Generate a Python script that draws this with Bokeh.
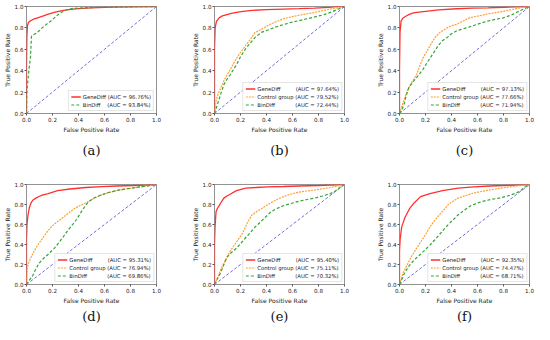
from bokeh.plotting import figure
from bokeh.layouts import column, row
from bokeh.models import FixedTicker, PrintfTickFormatter
from bokeh.embed import file_html
from bokeh.resources import INLINE

# ---------------- data ----------------
TICKS = [0.0, 0.2, 0.4, 0.6, 0.8, 1.0]
DIAG = [0.0, 1.0]
PANEL_TAGS = ["(a)", "(b)", "(c)", "(d)", "(e)", "(f)"]
SERIES_NAMES = ["GeneDiff", "Control group", "BinDiff"]

AUC_A = [96.76, None, 93.84]
AUC_B = [97.64, 79.52, 72.44]
AUC_C = [97.13, 77.66, 71.94]
AUC_D = [95.31, 76.94, 69.86]
AUC_E = [95.40, 75.11, 70.32]
AUC_F = [92.35, 74.47, 68.71]

A_GENE_FPR = [0, 0, 0.003, 0.007, 0.015, 0.031, 0.06, 0.091, 0.13, 0.163, 0.22, 0.284, 0.34, 0.40, 0.50, 0.65, 0.80, 1.0]
A_GENE_TPR = [0, 0.45, 0.72, 0.82, 0.85, 0.867, 0.885, 0.897, 0.912, 0.927, 0.947, 0.964, 0.973, 0.98, 0.988, 0.994, 0.997, 1.0]
A_BIN_FPR = [0, 0.003, 0.01, 0.02, 0.031, 0.038, 0.05, 0.067, 0.08, 0.10, 0.12, 0.14, 0.165, 0.19, 0.225, 0.26, 0.29, 0.31, 0.356, 0.45, 0.6, 0.8, 1.0]
A_BIN_TPR = [0, 0.2, 0.3, 0.42, 0.53, 0.72, 0.735, 0.745, 0.755, 0.775, 0.80, 0.82, 0.845, 0.867, 0.905, 0.94, 0.958, 0.97, 0.982, 0.988, 0.993, 0.997, 1.0]

B_GENE_FPR = [0, 0, 0.005, 0.015, 0.036, 0.06, 0.096, 0.13, 0.169, 0.22, 0.29, 0.40, 0.53, 0.65, 0.77, 0.88, 0.94, 1.0]
B_GENE_TPR = [0, 0.60, 0.80, 0.86, 0.894, 0.912, 0.924, 0.935, 0.945, 0.955, 0.964, 0.970, 0.976, 0.98, 0.985, 0.992, 0.998, 1.0]
B_CTRL_FPR = [0, 0.012, 0.03, 0.048, 0.07, 0.096, 0.13, 0.169, 0.2, 0.24, 0.28, 0.313, 0.35, 0.386, 0.42, 0.458, 0.53, 0.60, 0.65, 0.77, 0.89, 1.0]
B_CTRL_TPR = [0, 0.12, 0.19, 0.24, 0.30, 0.36, 0.43, 0.515, 0.57, 0.636, 0.70, 0.758, 0.78, 0.803, 0.83, 0.85, 0.885, 0.905, 0.918, 0.945, 0.976, 1.0]
B_BIN_FPR = [0, 0.024, 0.05, 0.072, 0.096, 0.12, 0.145, 0.169, 0.2, 0.24, 0.28, 0.313, 0.361, 0.41, 0.458, 0.52, 0.578, 0.65, 0.723, 0.78, 0.843, 0.9, 0.94, 1.0]
B_BIN_TPR = [0, 0.09, 0.19, 0.27, 0.32, 0.36, 0.41, 0.455, 0.53, 0.606, 0.665, 0.712, 0.758, 0.78, 0.803, 0.827, 0.848, 0.868, 0.888, 0.905, 0.924, 0.948, 0.97, 1.0]

C_GENE_FPR = [0, 0, 0.004, 0.012, 0.025, 0.048, 0.075, 0.107, 0.15, 0.202, 0.30, 0.44, 0.56, 0.68, 0.80, 0.9, 1.0]
C_GENE_TPR = [0, 0.40, 0.76, 0.864, 0.89, 0.909, 0.926, 0.94, 0.948, 0.955, 0.968, 0.979, 0.984, 0.988, 0.993, 0.997, 1.0]
C_CTRL_FPR = [0, 0.024, 0.05, 0.083, 0.11, 0.131, 0.155, 0.179, 0.21, 0.25, 0.28, 0.31, 0.34, 0.369, 0.40, 0.44, 0.49, 0.536, 0.6, 0.679, 0.74, 0.798, 0.86, 0.917, 1.0]
C_CTRL_TPR = [0, 0.09, 0.18, 0.27, 0.32, 0.364, 0.44, 0.515, 0.58, 0.667, 0.72, 0.758, 0.78, 0.803, 0.82, 0.833, 0.865, 0.894, 0.91, 0.93, 0.943, 0.955, 0.97, 0.985, 1.0]
C_BIN_FPR = [0, 0.02, 0.036, 0.05, 0.071, 0.107, 0.14, 0.179, 0.215, 0.25, 0.275, 0.298, 0.33, 0.369, 0.40, 0.44, 0.5, 0.56, 0.62, 0.679, 0.74, 0.798, 0.86, 0.917, 1.0]
C_BIN_TPR = [0, 0.04, 0.09, 0.16, 0.24, 0.30, 0.35, 0.41, 0.48, 0.545, 0.59, 0.636, 0.68, 0.712, 0.745, 0.773, 0.795, 0.818, 0.842, 0.864, 0.88, 0.894, 0.92, 0.955, 1.0]

D_GENE_FPR = [0, 0, 0.004, 0.012, 0.022, 0.036, 0.05, 0.072, 0.095, 0.12, 0.167, 0.239, 0.335, 0.455, 0.58, 0.694, 0.82, 0.92, 1.0]
D_GENE_TPR = [0, 0.45, 0.606, 0.697, 0.77, 0.818, 0.845, 0.864, 0.88, 0.894, 0.909, 0.939, 0.955, 0.97, 0.978, 0.985, 0.99, 0.995, 1.0]
D_CTRL_FPR = [0, 0.005, 0.012, 0.024, 0.045, 0.072, 0.095, 0.12, 0.155, 0.19, 0.225, 0.263, 0.30, 0.335, 0.37, 0.407, 0.44, 0.478, 0.52, 0.574, 0.63, 0.694, 0.75, 0.813, 0.87, 0.933, 1.0]
D_CTRL_TPR = [0, 0.15, 0.2, 0.24, 0.30, 0.364, 0.41, 0.455, 0.52, 0.576, 0.615, 0.652, 0.69, 0.727, 0.76, 0.788, 0.805, 0.83, 0.862, 0.894, 0.918, 0.939, 0.952, 0.964, 0.975, 0.985, 1.0]
D_BIN_FPR = [0, 0.02, 0.048, 0.07, 0.096, 0.13, 0.167, 0.215, 0.25, 0.287, 0.32, 0.359, 0.385, 0.407, 0.43, 0.455, 0.478, 0.52, 0.574, 0.63, 0.694, 0.75, 0.813, 0.87, 0.933, 1.0]
D_BIN_TPR = [0, 0.04, 0.09, 0.15, 0.212, 0.26, 0.303, 0.364, 0.42, 0.485, 0.545, 0.606, 0.65, 0.697, 0.745, 0.79, 0.83, 0.865, 0.896, 0.92, 0.94, 0.953, 0.965, 0.976, 0.986, 1.0]

E_GENE_FPR = [0, 0, 0.004, 0.012, 0.022, 0.036, 0.05, 0.072, 0.095, 0.12, 0.169, 0.241, 0.32, 0.41, 0.53, 0.65, 0.8, 0.9, 1.0]
E_GENE_TPR = [0, 0.40, 0.576, 0.727, 0.76, 0.788, 0.82, 0.864, 0.885, 0.903, 0.939, 0.964, 0.97, 0.976, 0.98, 0.985, 0.99, 0.995, 1.0]
E_CTRL_FPR = [0, 0.024, 0.048, 0.072, 0.096, 0.12, 0.145, 0.169, 0.193, 0.217, 0.25, 0.289, 0.325, 0.361, 0.40, 0.434, 0.48, 0.53, 0.59, 0.65, 0.71, 0.771, 0.83, 0.892, 0.95, 1.0]
E_CTRL_TPR = [0, 0.07, 0.15, 0.21, 0.27, 0.333, 0.38, 0.424, 0.47, 0.515, 0.61, 0.697, 0.73, 0.758, 0.79, 0.818, 0.85, 0.879, 0.905, 0.924, 0.935, 0.945, 0.957, 0.97, 0.985, 1.0]
E_BIN_FPR = [0, 0.024, 0.048, 0.072, 0.096, 0.13, 0.169, 0.205, 0.241, 0.28, 0.313, 0.35, 0.386, 0.434, 0.48, 0.53, 0.59, 0.65, 0.71, 0.771, 0.83, 0.892, 0.93, 0.964, 1.0]
E_BIN_TPR = [0, 0.06, 0.12, 0.2, 0.273, 0.32, 0.364, 0.415, 0.47, 0.525, 0.576, 0.62, 0.667, 0.727, 0.76, 0.788, 0.81, 0.833, 0.85, 0.864, 0.885, 0.909, 0.935, 0.97, 1.0]

F_GENE_FPR = [0, 0, 0.005, 0.017, 0.041, 0.077, 0.114, 0.162, 0.234, 0.331, 0.452, 0.57, 0.693, 0.8, 0.9, 1.0]
F_GENE_TPR = [0, 0.33, 0.455, 0.576, 0.667, 0.758, 0.818, 0.879, 0.909, 0.939, 0.964, 0.976, 0.985, 0.99, 0.995, 1.0]
F_CTRL_FPR = [0, 0.029, 0.06, 0.089, 0.125, 0.162, 0.2, 0.234, 0.27, 0.307, 0.343, 0.379, 0.415, 0.452, 0.51, 0.572, 0.63, 0.693, 0.75, 0.814, 0.9, 1.0]
F_CTRL_TPR = [0, 0.12, 0.2, 0.273, 0.35, 0.424, 0.5, 0.576, 0.64, 0.697, 0.75, 0.803, 0.835, 0.864, 0.89, 0.915, 0.93, 0.945, 0.958, 0.97, 0.985, 1.0]
F_BIN_FPR = [0, 0.041, 0.065, 0.089, 0.125, 0.162, 0.2, 0.234, 0.27, 0.307, 0.343, 0.379, 0.415, 0.452, 0.5, 0.548, 0.6, 0.645, 0.7, 0.766, 0.83, 0.886, 0.93, 0.959, 1.0]
F_BIN_TPR = [0, 0.12, 0.17, 0.212, 0.26, 0.303, 0.35, 0.394, 0.445, 0.5, 0.553, 0.606, 0.65, 0.697, 0.745, 0.788, 0.815, 0.833, 0.85, 0.864, 0.885, 0.909, 0.935, 0.97, 1.0]

# ---------------- styling ----------------
FONT = "DejaVu Sans"
COLORS = ["#ff3030", "#ffa030", "#35a535"]
DASHES = ["solid", "2 1", "3 2"]
WIDTHS = [1.3, 1.2, 1.2]
DIAG_COLOR = "#4a4ad0"
NBSP = "\u00a0"
PAD_3 = {"GeneDiff": 8, "Control group": 0, "BinDiff": 11}
PAD_2 = {"GeneDiff": 0, "BinDiff": 3}

LEFT_B = 20
FRAME_W = 136
FRAME_H = 107


def make_panel(tag, curves, aucs, fig_w, right_border, fig_h, top_border, title_standoff):
    p = figure(width=fig_w, height=fig_h, x_range=(0, 1), y_range=(0, 1),
               output_backend="svg", toolbar_location=None,
               title=tag, title_location="below",
               min_border_left=LEFT_B, min_border_right=right_border,
               min_border_top=top_border,
               min_border_bottom=fig_h - top_border - FRAME_H)
    p.grid.visible = False
    p.outline_line_color = "#777777"
    p.outline_line_width = 0.8
    p.background_fill_color = "white"
    p.border_fill_color = "white"

    for ax in (p.xaxis[0], p.yaxis[0]):
        ax.ticker = FixedTicker(ticks=TICKS)
        ax.formatter = PrintfTickFormatter(format="%.1f")
        ax.axis_line_color = None
        ax.major_tick_out = 2
        ax.major_tick_in = 0
        ax.minor_tick_line_color = None
        ax.major_tick_line_color = "#555555"
        ax.major_label_text_font = FONT
        ax.major_label_text_font_size = "5.6px"
        ax.major_label_text_color = "#222222"
        ax.major_label_standoff = 1
        ax.axis_label_text_font = FONT
        ax.axis_label_text_font_size = "6px"
        ax.axis_label_text_font_style = "normal"
        ax.axis_label_text_color = "#222222"
        ax.axis_label_standoff = 1
    p.xaxis.axis_label = "False Positive Rate"
    p.yaxis.axis_label = "True Positive Rate"

    p.line(DIAG, DIAG, line_color=DIAG_COLOR, line_width=0.8, line_dash="3 2")

    three = aucs[1] is not None
    for i, (name, (fx, ty)) in enumerate(zip(SERIES_NAMES, curves)):
        if fx is None:
            continue
        pad = PAD_3[name] if three else PAD_2[name]
        label = f"{name}{NBSP * pad} (AUC = {aucs[i]:.2f}%)"
        p.line(fx, ty, line_color=COLORS[i], line_width=WIDTHS[i],
               line_dash=DASHES[i], legend_label=label)

    lg = p.legend[0]
    lg.location = "bottom_right"
    lg.label_text_font = FONT
    lg.label_text_font_size = "5.3px"
    lg.label_text_color = "#222222"
    lg.label_height = 7
    lg.glyph_height = 7
    lg.glyph_width = 10
    lg.label_standoff = 2
    lg.spacing = 1
    lg.padding = 2
    lg.margin = 2
    lg.border_line_color = "#cccccc"
    lg.border_line_width = 0.8
    lg.background_fill_alpha = 0.9

    p.title.align = "center"
    p.title.text_font = "DejaVu Serif"
    p.title.text_font_size = "13px"
    p.title.text_font_style = "normal"
    p.title.text_color = "#111111"
    p.title.standoff = title_standoff
    return p


panels_data = [
    ([(A_GENE_FPR, A_GENE_TPR), (None, None), (A_BIN_FPR, A_BIN_TPR)], AUC_A),
    ([(B_GENE_FPR, B_GENE_TPR), (B_CTRL_FPR, B_CTRL_TPR), (B_BIN_FPR, B_BIN_TPR)], AUC_B),
    ([(C_GENE_FPR, C_GENE_TPR), (C_CTRL_FPR, C_CTRL_TPR), (C_BIN_FPR, C_BIN_TPR)], AUC_C),
    ([(D_GENE_FPR, D_GENE_TPR), (D_CTRL_FPR, D_CTRL_TPR), (D_BIN_FPR, D_BIN_TPR)], AUC_D),
    ([(E_GENE_FPR, E_GENE_TPR), (E_CTRL_FPR, E_CTRL_TPR), (E_BIN_FPR, E_BIN_TPR)], AUC_E),
    ([(F_GENE_FPR, F_GENE_TPR), (F_CTRL_FPR, F_CTRL_TPR), (F_BIN_FPR, F_BIN_TPR)], AUC_F),
]

FIG_W = [188, 185, 161]
RIGHT_B = [32, 29, 5]
ROW_H = [178, 146]
ROW_TOP = [6, 6]
ROW_TITLE_STANDOFF = [11, 1]

figs = []
for k, (curves, aucs) in enumerate(panels_data):
    r, c = divmod(k, 3)
    figs.append(make_panel(PANEL_TAGS[k], curves, aucs, FIG_W[c], RIGHT_B[c],
                           ROW_H[r], ROW_TOP[r], ROW_TITLE_STANDOFF[r]))

layout = column(row(*figs[:3]), row(*figs[3:]))

with open("out.html", "w") as f:
    f.write(file_html(layout, INLINE))
